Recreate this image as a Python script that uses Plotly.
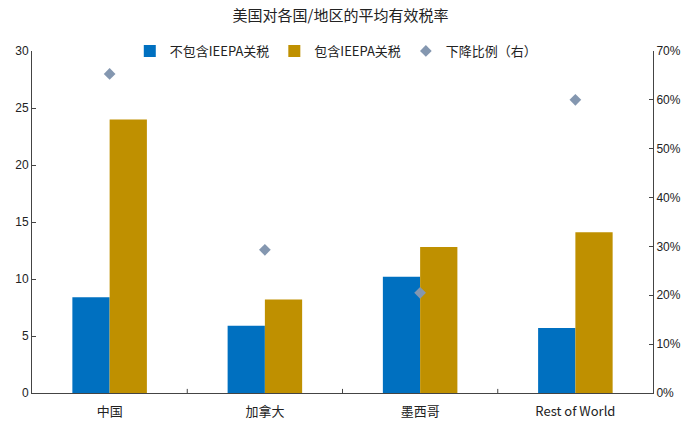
import plotly.graph_objects as go

categories = ["中国", "加拿大", "墨西哥", "Rest of World"]
excl_ieepa = [8.4, 5.9, 10.2, 5.7]
incl_ieepa = [24.0, 8.2, 12.8, 14.1]
decline_pct = [65.3, 29.3, 20.5, 60.0]

cjk = "Noto Sans CJK SC"
num = "Liberation Sans"

fig = go.Figure()
fig.add_trace(go.Bar(x=categories, y=excl_ieepa, name="不包含IEEPA关税",
                     marker=dict(color="#0070C0", line=dict(width=0))))
fig.add_trace(go.Bar(x=categories, y=incl_ieepa, name="包含IEEPA关税",
                     marker=dict(color="#BF9000", line=dict(width=0))))
fig.add_trace(go.Scatter(x=categories, y=decline_pct, name="下降比例（右）", mode="markers",
                         yaxis="y2",
                         marker=dict(symbol="diamond", size=9, color="#8497B0")))

fig.update_layout(
    width=681, height=425,
    margin=dict(l=32, r=28, t=51, b=32, autoexpand=False),
    paper_bgcolor="white", plot_bgcolor="white",
    title=dict(text="美国对各国/地区的平均有效税率", x=0.5, xanchor="center", y=0.962, yanchor="middle",
               font=dict(family=cjk, size=15, color="#222")),
    barmode="group", bargap=0.52, bargroupgap=0,
    legend=dict(orientation="h", x=0.49, xanchor="center", y=1.0, yanchor="middle",
                font=dict(family=cjk, size=13, color="#222"), bgcolor="rgba(0,0,0,0)",
                itemwidth=30, tracegroupgap=0),
    xaxis=dict(showline=True, linecolor="#444", linewidth=1, ticks="", showgrid=False,
               automargin=False, ticklabelstandoff=6,
               tickfont=dict(family=cjk, size=13, color="#222"), mirror=False),
    yaxis=dict(range=[0, 30], dtick=5, showline=True, linecolor="#444", linewidth=1,
               ticks="inside", ticklen=4, tickcolor="#444", showgrid=False, zeroline=False,
               automargin=False,
               tickfont=dict(family=num, size=12, color="#222")),
    yaxis2=dict(range=[0, 70], dtick=10, overlaying="y", side="right", showline=True,
                linecolor="#444", linewidth=1, ticks="inside", ticklen=4, tickcolor="#444",
                showgrid=False, zeroline=False, ticksuffix="%", automargin=False,
                tickfont=dict(family=num, size=12, color="#222")),
)

# category separator ticks on x-axis (inside)
for i in range(1, len(categories)):
    fig.add_shape(type="line", xref="x", yref="paper", x0=i - 0.5, x1=i - 0.5, y0=0, y1=0.012,
                  line=dict(color="#444", width=1))

fig.write_html("out.html")
